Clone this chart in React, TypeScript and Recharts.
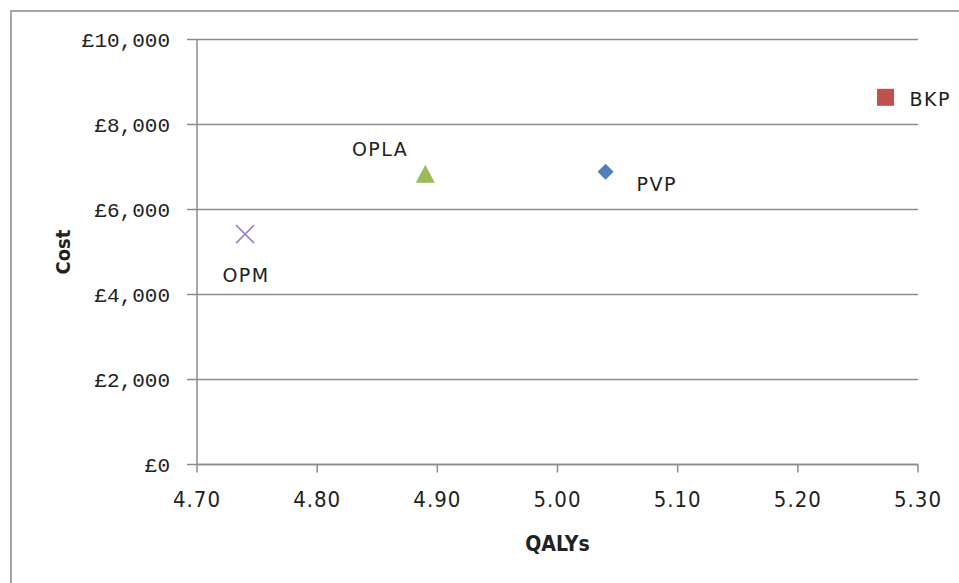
import { ScatterChart, Scatter, XAxis, YAxis, CartesianGrid } from 'recharts';

const names = ['BKP', 'PVP', 'OPLA', 'OPM'];
const qalys = [5.273, 5.04, 4.89, 4.74];
const costs = [8640, 6890, 6840, 5420];

const xTicks = [4.7, 4.8, 4.9, 5.0, 5.1, 5.2, 5.3];
const yTicks = [0, 2000, 4000, 6000, 8000, 10000];

const points = names.map((name, i) => ({ name, qaly: qalys[i], cost: costs[i] }));

// marker look + where each label sits relative to its point
const markers: Record<string, any> = {
  BKP: { kind: 'square', color: '#c0504d', dx: 24, dy: 9, anchor: 'start' },
  PVP: { kind: 'diamond', color: '#4f81bd', dx: 31, dy: 19, anchor: 'start' },
  OPLA: { kind: 'triangle', color: '#9bbb59', dx: -17, dy: -18, anchor: 'end' },
  OPM: { kind: 'x', color: '#9b7fc6', dx: 1, dy: 48, anchor: 'middle' },
};

const gridColor = '#8c8c8c';

function Marker(props: any) {
  const { cx, cy, payload } = props;
  const m = markers[payload.name];
  let symbol;
  if (m.kind === 'square') {
    symbol = <rect x={cx - 8.5} y={cy - 8.5} width={17} height={17} fill={m.color} />;
  } else if (m.kind === 'diamond') {
    symbol = (
      <polygon
        points={`${cx},${cy - 8} ${cx + 8},${cy} ${cx},${cy + 8} ${cx - 8},${cy}`}
        fill={m.color}
      />
    );
  } else if (m.kind === 'triangle') {
    symbol = (
      <polygon
        points={`${cx},${cy - 9} ${cx + 9.5},${cy + 9} ${cx - 9.5},${cy + 9}`}
        fill={m.color}
      />
    );
  } else {
    symbol = (
      <g stroke={m.color} strokeWidth={1.5}>
        <line x1={cx - 9} y1={cy - 9} x2={cx + 9} y2={cy + 9} />
        <line x1={cx - 9} y1={cy + 9} x2={cx + 9} y2={cy - 9} />
      </g>
    );
  }
  return (
    <g>
      {symbol}
      <text
        x={cx + m.dx}
        y={cy + m.dy}
        textAnchor={m.anchor}
        fontFamily="DejaVu Sans"
        fontSize={19}
        letterSpacing={1.5}
        fill="#222"
      >
        {payload.name}
      </text>
    </g>
  );
}

const costLabel = (props: any) => {
  const vb = props.viewBox;
  const y = vb.y + vb.height / 2;
  return (
    <text
      x={70}
      y={y}
      transform={`rotate(-90, 70, ${y})`}
      textAnchor="middle"
      fontFamily="DejaVu Sans Condensed"
      fontWeight="bold"
      fontSize={20}
      fill="#222"
    >
      Cost
    </text>
  );
};

const qalyLabel = (props: any) => {
  const vb = props.viewBox;
  return (
    <text
      x={vb.x + vb.width / 2}
      y={551}
      textAnchor="middle"
      fontFamily="DejaVu Sans Condensed"
      fontWeight="bold"
      fontSize={21}
      fill="#222"
    >
      QALYs
    </text>
  );
};

export default function App() {
  return (
    <div
      style={{
        position: 'absolute',
        left: 0,
        top: 0,
        width: 959,
        height: 583,
        overflow: 'hidden',
        background: '#fff',
      }}
    >
      <div
        style={{
          position: 'absolute',
          left: 10,
          top: 10,
          width: 1000,
          height: 700,
          border: '2px solid #a6a6a6',
        }}
      />
      <div style={{ position: 'absolute', left: 0, top: 0 }}>
        <ScatterChart
          width={959}
          height={583}
          margin={{ top: 39.5, right: 41, bottom: 0, left: 0 }}
        >
          <CartesianGrid vertical={false} stroke={gridColor} strokeWidth={1.5} />
          <XAxis
            type="number"
            dataKey="qaly"
            domain={[4.7, 5.3]}
            ticks={xTicks}
            tickFormatter={(v: number) => v.toFixed(2)}
            height={118.5}
            tickSize={8}
            tickMargin={19}
            stroke={gridColor}
            strokeWidth={1.5}
            tick={{
              fill: '#222',
              fontFamily: 'DejaVu Sans Condensed',
              fontSize: 22,
              letterSpacing: 1,
            }}
            label={qalyLabel}
          />
          <YAxis
            type="number"
            dataKey="cost"
            domain={[0, 10000]}
            ticks={yTicks}
            tickFormatter={(v: number) => '£' + v.toLocaleString('en-GB')}
            width={197}
            tickSize={10}
            tickMargin={17}
            stroke={gridColor}
            strokeWidth={1.5}
            tick={{ fill: '#222', fontFamily: 'Liberation Mono', fontSize: 21 }}
            label={costLabel}
          />
          {points.map((p) => (
            <Scatter
              key={p.name}
              name={p.name}
              data={[p]}
              shape={Marker}
              isAnimationActive={false}
            />
          ))}
        </ScatterChart>
      </div>
    </div>
  );
}
